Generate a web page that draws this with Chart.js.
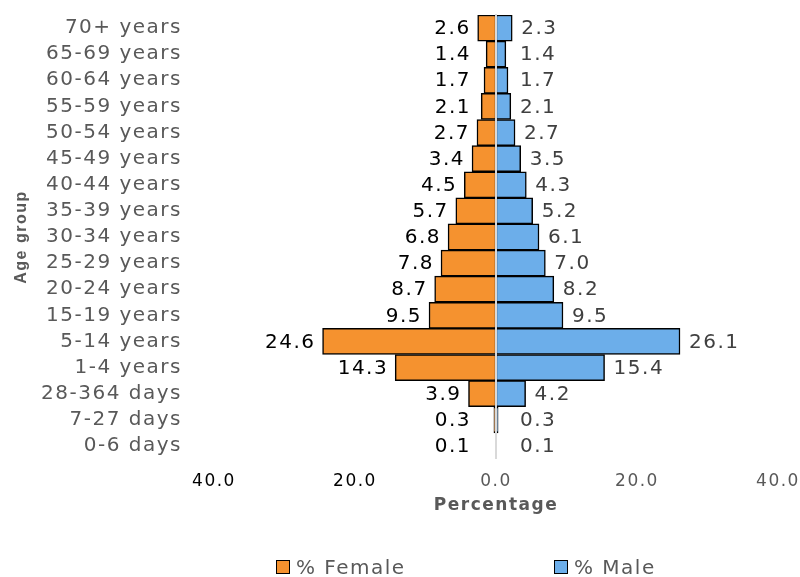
<!DOCTYPE html>
<html>
<head>
<meta charset="utf-8">
<script src="https://cdn.jsdelivr.net/npm/chart.js@4"></script>
<style>
    html, body { margin: 0; padding: 0; background: #fff; }
    #wrap { position: relative; width: 800px; height: 577px; }
    .leg { position: absolute; top: 555px; font: 20px "DejaVu Sans", Arial, sans-serif; letter-spacing: 1.5px; color: #595959; display: flex; align-items: center; white-space: nowrap; }
    .leg i { display: inline-block; width: 12px; height: 12px; border: 1.5px solid #000; margin-right: 6px; }
</style>
</head>
<body>
<div id="wrap">
    <canvas id="pyramid" width="800" height="577"></canvas>
    <div class="leg" style="left:276px"><i style="background:#F5922F"></i>% Female</div>
    <div class="leg" style="left:554px"><i style="background:#6CAEEA"></i>% Male</div>
</div>
<script>
const ageGroups = ['70+ years', '65-69 years', '60-64 years', '55-59 years', '50-54 years',
    '45-49 years', '40-44 years', '35-39 years', '30-34 years', '25-29 years', '20-24 years',
    '15-19 years', '5-14 years', '1-4 years', '28-364 days', '7-27 days', '0-6 days'];
const femalePct = [2.6, 1.4, 1.7, 2.1, 2.7, 3.4, 4.5, 5.7, 6.8, 7.8, 8.7, 9.5, 24.6, 14.3, 3.9, 0.3, 0.1];
const malePct = [2.3, 1.4, 1.7, 2.1, 2.7, 3.5, 4.3, 5.2, 6.1, 7.0, 8.2, 9.5, 26.1, 15.4, 4.2, 0.3, 0.1];
const xTicks = [-40, -20, 0, 20, 40];

const FONT = '"DejaVu Sans", Arial, sans-serif';
const SPACING = '1.5px';

// the reference text is drawn wide, so add a little letter spacing
const spacingPlugin = {
    id: 'spacing',
    beforeLayout(chart) { chart.ctx.letterSpacing = SPACING; },
    beforeDraw(chart) { chart.ctx.letterSpacing = SPACING; }
};

// zero line over the bars + value labels
const valueLabels = {
    id: 'valueLabels',
    afterDatasetsDraw(chart) {
        const ctx = chart.ctx;
        const zero = chart.scales.x.getPixelForValue(0);
        const area = chart.chartArea;
        ctx.save();
        ctx.strokeStyle = '#d9d9d9';
        ctx.lineWidth = 2;
        ctx.beginPath();
        ctx.moveTo(zero, area.top - 1);
        ctx.lineTo(zero, area.bottom);
        ctx.stroke();

        ctx.letterSpacing = SPACING;
        ctx.font = '20px ' + FONT;
        ctx.textBaseline = 'middle';

        ctx.textAlign = 'right';
        ctx.fillStyle = '#000';
        chart.getDatasetMeta(0).data.forEach((bar, i) => {
            const x = Math.min(bar.x - 7, zero - 25);
            ctx.fillText(femalePct[i].toFixed(1), x, bar.y + 1);
        });

        ctx.textAlign = 'left';
        ctx.fillStyle = '#404040';
        chart.getDatasetMeta(1).data.forEach((bar, i) => {
            const x = Math.max(bar.x + 9, zero + 24);
            ctx.fillText(malePct[i].toFixed(1), x, bar.y + 1);
        });
        ctx.restore();
    }
};

const ctx = document.getElementById('pyramid').getContext('2d');
new Chart(ctx, {
    type: 'bar',
    data: {
        labels: ageGroups,
        datasets: [
            {
                label: '% Female',
                data: femalePct.map(v => -v),
                backgroundColor: '#F5922F',
                borderColor: '#000',
                borderWidth: 1.5,
                borderSkipped: false,
                barPercentage: 1,
                categoryPercentage: 1
            },
            {
                label: '% Male',
                data: malePct,
                backgroundColor: '#6CAEEA',
                borderColor: '#000',
                borderWidth: 1.5,
                borderSkipped: false,
                barPercentage: 1,
                categoryPercentage: 1
            }
        ]
    },
    options: {
        indexAxis: 'y',
        responsive: false,
        animation: false,
        layout: { padding: { top: 15, right: 22, bottom: 57, left: 0 } },
        plugins: {
            legend: { display: false },
            tooltip: { enabled: false }
        },
        scales: {
            x: {
                stacked: true,
                min: xTicks[0],
                max: xTicks[xTicks.length - 1],
                afterBuildTicks(scale) { scale.ticks = xTicks.map(v => ({ value: v })); },
                grid: { display: false },
                border: { display: false },
                ticks: {
                    padding: 4,
                    font: { size: 17, family: FONT },
                    color: c => c.tick.value < 0 ? '#000' : '#595959',
                    callback: v => Math.abs(v).toFixed(1)
                },
                title: {
                    display: true,
                    text: 'Percentage',
                    color: '#595959',
                    font: { size: 17, weight: 'bold', family: FONT },
                    padding: { top: 4, bottom: 4 }
                },
                afterFit(scale) {
                    scale.height = 61;
                    scale.paddingLeft = 0;
                    scale.paddingRight = 0;
                }
            },
            y: {
                stacked: true,
                grid: { display: false },
                border: { display: false },
                ticks: {
                    autoSkip: false,
                    padding: 24,
                    color: '#595959',
                    font: { size: 20, family: FONT }
                },
                title: {
                    display: true,
                    text: 'Age group',
                    color: '#595959',
                    font: { size: 16, weight: 'bold', family: '"Liberation Sans", Arial, sans-serif' },
                    padding: { top: 12, bottom: 0 }
                },
                afterFit(scale) {
                    scale.width = 214;
                    scale.paddingTop = 0;
                    scale.paddingBottom = 0;
                }
            }
        }
    },
    plugins: [spacingPlugin, valueLabels]
});
</script>
</body>
</html>
